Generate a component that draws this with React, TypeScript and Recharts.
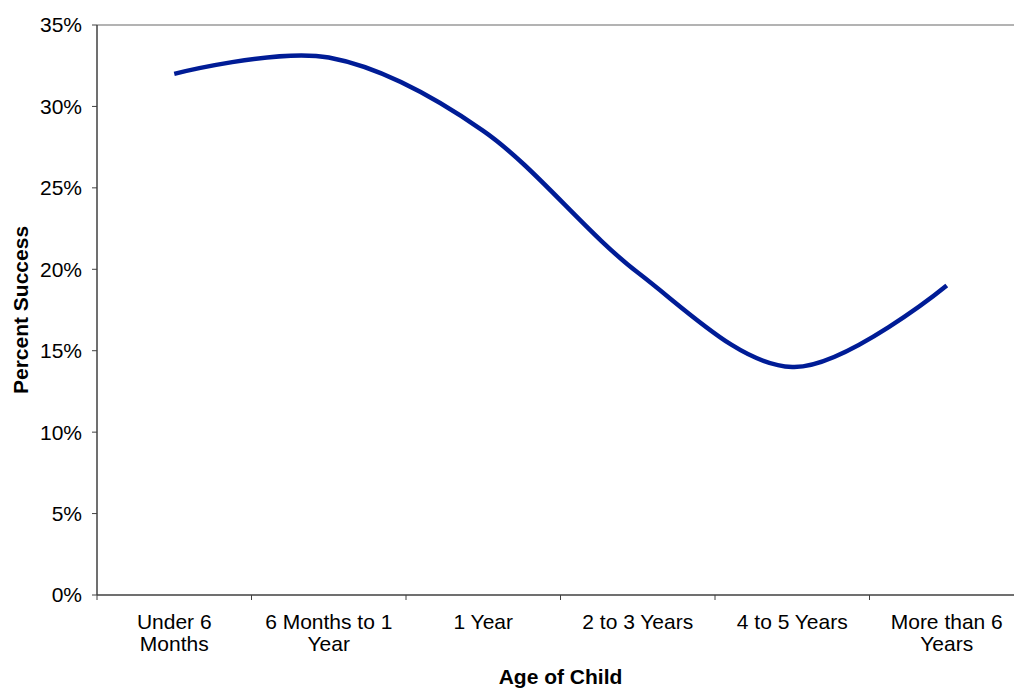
import React from "react";
import {
  ComposedChart,
  Line,
  XAxis,
  YAxis,
  ReferenceLine,
  Label,
} from "recharts";

// Age groups (line breaks mark where the axis label wraps)
const categories: string[] = [
  "Under 6\nMonths",
  "6 Months to 1\nYear",
  "1 Year",
  "2 to 3 Years",
  "4 to 5 Years",
  "More than 6\nYears",
];

// Percent success for each age group
const successValues: number[] = [32.0, 33.0, 28.5, 19.8, 14.0, 19.0];

// Y axis tick values (percent)
const yTicks: number[] = [0, 5, 10, 15, 20, 25, 30, 35];

const data = categories.map((age, i) => ({ age, success: successValues[i] }));

// Layout
const CHART_W = 1024;
const CHART_H = 688;
const Y_AXIS_W = 97;
const X_AXIS_H = 93;
const TOP = 25;
const PLOT_W = CHART_W - Y_AXIS_W;
const HALF_BAND = PLOT_W / categories.length / 2;
const FONT = '"Liberation Sans", Arial, Helvetica, sans-serif';
const AXIS_COLOR = "#404040";
const LINE_COLOR = "#001C96";

// Smooth curve through every point (cardinal spline, tension 0)
class SmoothCurve {
  _context: any;
  _k = 1 / 6;
  _line = NaN;
  _point = 0;
  _x0 = NaN;
  _x1 = NaN;
  _x2 = NaN;
  _y0 = NaN;
  _y1 = NaN;
  _y2 = NaN;
  constructor(context: any) {
    this._context = context;
  }
  areaStart() {
    this._line = 0;
  }
  areaEnd() {
    this._line = NaN;
  }
  lineStart() {
    this._x0 = this._x1 = this._x2 = NaN;
    this._y0 = this._y1 = this._y2 = NaN;
    this._point = 0;
  }
  lineEnd() {
    switch (this._point) {
      case 2:
        this._context.lineTo(this._x2, this._y2);
        break;
      case 3:
        this._segment(this._x1, this._y1);
        break;
    }
    if (this._line || (this._line !== 0 && this._point === 1)) this._context.closePath();
    this._line = 1 - this._line;
  }
  _segment(x: number, y: number) {
    this._context.bezierCurveTo(
      this._x1 + this._k * (this._x2 - this._x0),
      this._y1 + this._k * (this._y2 - this._y0),
      this._x2 + this._k * (this._x1 - x),
      this._y2 + this._k * (this._y1 - y),
      this._x2,
      this._y2
    );
  }
  point(x: number, y: number) {
    x = +x;
    y = +y;
    switch (this._point) {
      case 0:
        this._point = 1;
        if (this._line) this._context.lineTo(x, y);
        else this._context.moveTo(x, y);
        break;
      case 1:
        this._point = 2;
        this._x1 = x;
        this._y1 = y;
        break;
      case 2:
        this._point = 3;
        this._segment(x, y);
        break;
      default:
        this._segment(x, y);
        break;
    }
    this._x0 = this._x1;
    this._x1 = this._x2;
    this._x2 = x;
    this._y0 = this._y1;
    this._y1 = this._y2;
    this._y2 = y;
  }
}

const smoothCurve: any = (context: any) => new SmoothCurve(context);

// Category tick: tick mark on the band boundary, wrapped label in the band centre
const AgeTick = (props: any) => {
  const { x, y, payload } = props;
  const lines = String(payload.value).split("\n");
  return (
    <g>
      <line
        x1={x - HALF_BAND}
        x2={x - HALF_BAND}
        y1={y}
        y2={y + 5}
        stroke={AXIS_COLOR}
        strokeWidth={1}
      />
      <text
        x={x}
        y={y + 34}
        textAnchor="middle"
        fontSize={21}
        fill="#000"
        fontFamily={FONT}
      >
        {lines.map((ln, i) => (
          <tspan key={i} x={x} dy={i === 0 ? 0 : 22}>
            {ln}
          </tspan>
        ))}
      </text>
    </g>
  );
};

const XTitle = (props: any) => {
  const vb = props.viewBox || {};
  const x = (vb.x ?? Y_AXIS_W) + (vb.width ?? PLOT_W) / 2;
  const y = (vb.y ?? CHART_H - X_AXIS_H) + 89;
  return (
    <text x={x} y={y} textAnchor="middle" fontSize={21} fontWeight="bold" fill="#000" fontFamily={FONT}>
      Age of Child
    </text>
  );
};

const YTitle = (props: any) => {
  const vb = props.viewBox || {};
  const x = (vb.x ?? 0) + 20;
  const y = (vb.y ?? TOP) + (vb.height ?? CHART_H - X_AXIS_H - TOP) / 2;
  return (
    <text
      x={x}
      y={y}
      transform={`rotate(-90, ${x}, ${y})`}
      textAnchor="middle"
      dominantBaseline="central"
      fontSize={21}
      fontWeight="bold"
      fill="#000"
      fontFamily={FONT}
    >
      Percent Success
    </text>
  );
};

export default function App() {
  return (
    <div
      style={{
        position: "fixed",
        left: 0,
        top: 0,
        width: 1014,
        height: 688,
        overflow: "hidden",
        background: "#fff",
        fontFamily: FONT,
      }}
    >
      <ComposedChart
        width={CHART_W}
        height={CHART_H}
        data={data}
        margin={{ top: TOP, right: 0, bottom: 0, left: 0 }}
      >
        <XAxis
          dataKey="age"
          type="category"
          scale="band"
          height={X_AXIS_H}
          interval={0}
          tickLine={false}
          tickSize={0}
          tickMargin={0}
          axisLine={{ stroke: AXIS_COLOR, strokeWidth: 1.5 }}
          tick={<AgeTick />}
        >
          <Label content={<XTitle />} />
        </XAxis>
        <YAxis
          type="number"
          domain={[0, 35]}
          ticks={yTicks}
          interval={0}
          width={Y_AXIS_W}
          tickSize={5}
          tickMargin={10}
          tickFormatter={(v: number) => `${v}%`}
          tick={{ fill: "#000", fontSize: 21, fontFamily: FONT }}
          tickLine={{ stroke: AXIS_COLOR }}
          axisLine={{ stroke: AXIS_COLOR, strokeWidth: 1.5 }}
        >
          <Label content={<YTitle />} />
        </YAxis>
        <ReferenceLine y={35} stroke="#9a9a9a" strokeWidth={1.5} />
        <Line
          dataKey="success"
          type={smoothCurve}
          stroke={LINE_COLOR}
          strokeWidth={4.5}
          strokeLinecap="butt"
          dot={false}
          activeDot={false}
          isAnimationActive={false}
        />
      </ComposedChart>
    </div>
  );
}
